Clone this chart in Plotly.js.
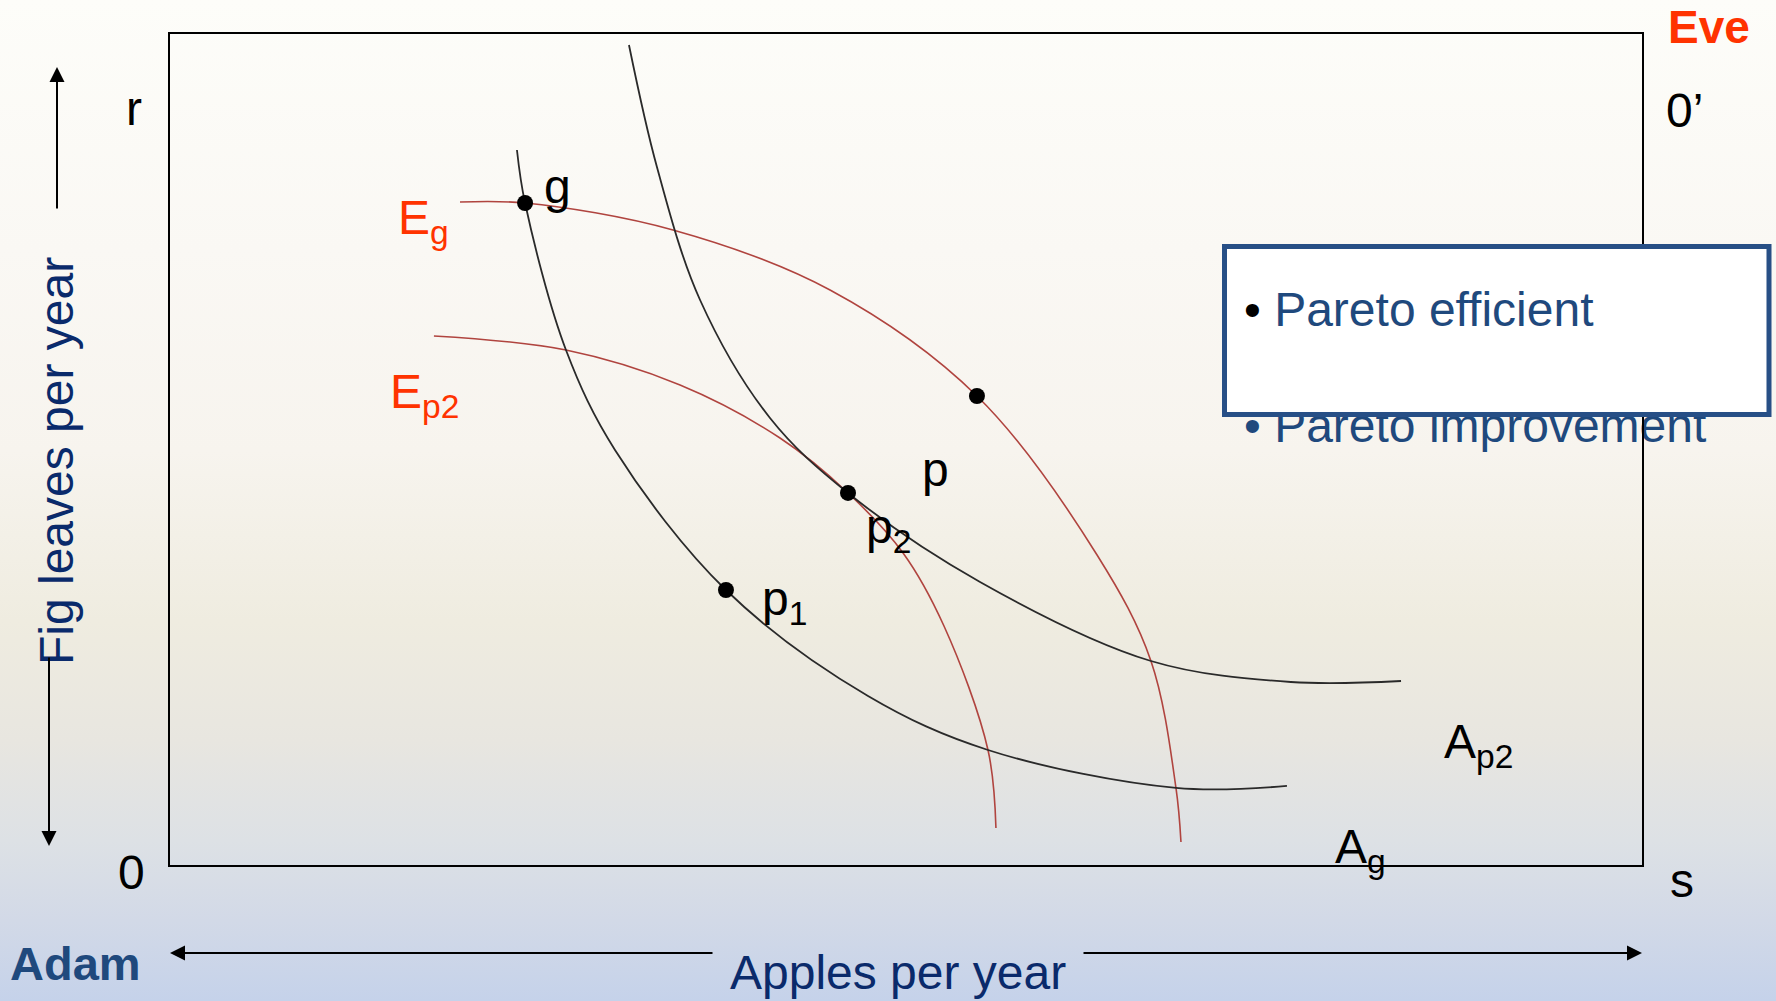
<!DOCTYPE html>
<html>
<head>
<meta charset="utf-8">
<script src="https://cdn.plot.ly/plotly-3.0.1.min.js"></script>
<style>
  html, body { margin:0; padding:0; }
  body {
    width:1776px; height:1001px; overflow:hidden;
    background: linear-gradient(to bottom,
      #FDFDF9 0%, #FAF8F4 25%, #F7F4EE 45%, #EFECE0 62%,
      #E8E6E0 74%, #DDE1E5 84%, #D2D9E7 92%, #C5D2EA 100%);
  }
  #chart { width:1776px; height:1001px; }
</style>
</head>
<body>
<div id="chart"></div>
<script>
// ---- Data (units: box width = 100 apples, box height = 100 fig leaves) ----
// Adam's indifference curve through g and p1 (A_g)
const agX = [23.57, 24.12, 26.90, 30.23, 37.77, 47.42, 55.57, 68.34, 75.88];
const agY = [86.04, 79.66, 61.97, 49.94, 33.09, 20.34, 13.84, 9.27, 9.51];
// Adam's indifference curve through p2 (A_p2)
const ap2X = [31.18, 33.08, 36.01, 40.76, 46.06, 55.03, 66.64, 76.15, 83.63];
const ap2Y = [98.68, 84.00, 67.99, 53.79, 44.77, 34.06, 24.55, 22.02, 22.14];
// Eve's indifference curve through g and p (E_g)
const egX = [19.70, 24.12, 34.17, 44.84, 54.82, 62.98, 66.64, 68.34, 68.68];
const egY = [79.78, 79.66, 76.41, 69.19, 56.44, 37.30, 24.55, 9.27, 2.77];
// Eve's indifference curve through p2 (E_p2)
const ep2X = [17.93, 26.90, 34.65, 41.44, 46.06, 49.80, 52.58, 55.57, 56.11];
const ep2Y = [63.66, 61.97, 57.76, 51.38, 44.77, 37.55, 28.76, 13.84, 4.45];
// Allocations g, p, p2, p1
const pointNames = ['g', 'p', 'p<sub>2</sub>', 'p<sub>1</sub>'];
const pointX = [24.12, 54.82, 46.06, 37.77];
const pointY = [79.66, 56.44, 44.77, 33.09];
// Curve labels and other texts
const curveNames = ['E<sub>g</sub>', 'E<sub>p2</sub>', 'A<sub>p2</sub>', 'A<sub>g</sub>'];
const cornerLabels = ['r', '0’', '0', 's'];
const people = ['Eve', 'Adam'];
const axisTitles = ['Apples per year', 'Fig leaves per year'];
const boxItems = ['Pareto efficient', 'Pareto improvement'];

// ---- Layout helpers (page pixels -> paper coords) ----
const FONT = '"Liberation Sans", Arial, sans-serif';
const L = 170, R = 1642, T = 34, B = 865;
const px = x => (x - L) / (R - L);
const py = y => (B - y) / (B - T);
const dx = x => (x - L) / (R - L) * 100;
const dy = y => (B - y) / (B - T) * 100;
function label(x, y, text, o) {
  return Object.assign({
    xref: 'paper', yref: 'paper', x: px(x), y: py(y), text: text,
    showarrow: false, xanchor: 'left', yanchor: 'middle',
    font: { family: FONT, size: 48, color: '#000000' }
  }, o || {});
}
function arrow(hx, hy, tx, ty) {
  return {
    xref: 'paper', yref: 'paper', x: px(hx), y: py(hy), text: '',
    showarrow: true, arrowhead: 2, arrowsize: 1.5, arrowwidth: 2,
    arrowcolor: '#000000', axref: 'pixel', ayref: 'pixel',
    ax: tx - hx, ay: ty - hy, standoff: 0, startstandoff: 0
  };
}
const RED = '#FF3300';
const NAVY = '#0A2A6B';
const BLUE = '#1F497D';

const blackLine = { color: '#2a2a2a', width: 1.8, shape: 'spline', smoothing: 1 };
const redLine = { color: '#B0443F', width: 1.6, shape: 'spline', smoothing: 1 };

const traces = [
  { type: 'scatter', mode: 'lines', x: egX, y: egY, line: redLine, hoverinfo: 'skip' },
  { type: 'scatter', mode: 'lines', x: ep2X, y: ep2Y, line: redLine, hoverinfo: 'skip' },
  { type: 'scatter', mode: 'lines', x: agX, y: agY, line: blackLine, hoverinfo: 'skip' },
  { type: 'scatter', mode: 'lines', x: ap2X, y: ap2Y, line: blackLine, hoverinfo: 'skip' },
  { type: 'scatter', mode: 'markers', x: pointX, y: pointY, marker: { size: 16, color: '#000000' }, hoverinfo: 'skip' },
  { type: 'scatter', mode: 'text', x: [dx(1244)], y: [dy(430)], text: ['• ' + boxItems[1]],
    textposition: 'middle right', cliponaxis: false,
    textfont: { family: FONT, size: 48, color: BLUE }, hoverinfo: 'skip' }
];

const annotations = [
  // curve labels
  label(396, 221, curveNames[0], { font: { family: FONT, size: 48, color: RED } }),
  label(388, 395, curveNames[1], { font: { family: FONT, size: 48, color: RED } }),
  label(1442, 745, curveNames[2]),
  label(1333, 850, curveNames[3]),
  // point labels
  label(542, 187, pointNames[0]),
  label(920, 469, pointNames[1]),
  label(864, 530, pointNames[2]),
  label(760, 602, pointNames[3]),
  // corner labels
  label(134, 109, cornerLabels[0], { xanchor: 'center' }),
  label(1664, 110, cornerLabels[1]),
  label(131, 872, cornerLabels[2], { xanchor: 'center' }),
  label(1682, 880, cornerLabels[3], { xanchor: 'center' }),
  // people
  label(1709, 27, '<b>' + people[0] + '</b>', { xanchor: 'center', font: { family: FONT, size: 46, color: RED } }),
  label(76, 964, '<b>' + people[1] + '</b>', { xanchor: 'center', font: { family: FONT, size: 47, color: BLUE } }),
  // axis titles
  label(898, 972, axisTitles[0], { xanchor: 'center', font: { family: FONT, size: 48, color: NAVY } }),
  label(56, 461, axisTitles[1], { xanchor: 'center', textangle: -90, font: { family: FONT, size: 48, color: NAVY } }),
  // box text
  label(1242, 310, '<span style="color:#000000">•</span> ' + boxItems[0], { font: { family: FONT, size: 48, color: BLUE } }),
  // arrows
  arrow(170, 953, 714, 953),
  arrow(1642, 953, 1082, 953),
  arrow(57, 67, 57, 210),
  arrow(49, 846, 49, 656)
];

const axisBase = {
  range: [0, 100], showgrid: false, zeroline: false, showticklabels: false,
  ticks: '', showline: true, mirror: true, linecolor: '#000000', linewidth: 2,
  fixedrange: true
};

const layout = {
  width: 1776, height: 1001, autosize: false,
  margin: { l: L, r: 1776 - R, t: T, b: 1001 - B, pad: 0 },
  paper_bgcolor: 'rgba(0,0,0,0)', plot_bgcolor: 'rgba(0,0,0,0)',
  showlegend: false, hovermode: false,
  xaxis: Object.assign({}, axisBase),
  yaxis: Object.assign({}, axisBase),
  shapes: [{
    type: 'rect', xref: 'paper', yref: 'paper', layer: 'above',
    x0: px(1224.5), x1: px(1769), y0: py(414.5), y1: py(246.5),
    fillcolor: '#FFFFFF', line: { color: '#274F86', width: 5 }
  }],
  annotations: annotations
};

Plotly.newPlot('chart', traces, layout, { staticPlot: true, displayModeBar: false });
</script>
</body>
</html>
